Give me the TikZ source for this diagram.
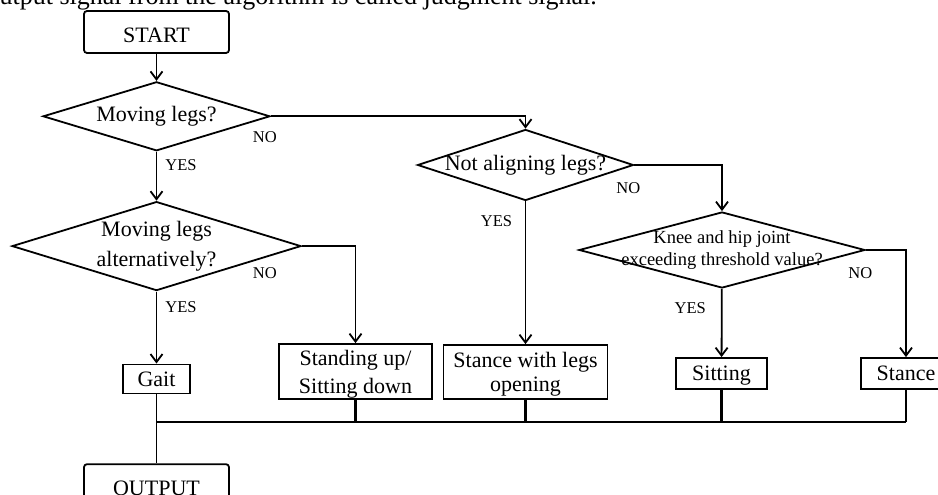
\documentclass[tikz,border=0pt]{standalone}
\usepackage{fontspec}
\setmainfont{Liberation Serif}
\usetikzlibrary{arrows.meta,positioning,shapes.geometric}

\begin{document}
\begin{tikzpicture}[x=1pt, y=-1pt,
  font=\fontsize{22}{27}\selectfont,
  box/.style={draw, line width=1.8pt, align=center, inner sep=0pt, text depth=0pt},
  term/.style={box, rounded corners=3pt, minimum width=145pt, minimum height=42pt, text height=21pt},
  dec/.style={draw, line width=1.8pt, diamond, inner sep=0pt},
  lbl/.style={font=\fontsize{16.5}{18}\selectfont, inner sep=0pt},
  arr/.style={-{Straight Barb[length=8pt,width=12pt]}, line width=1.8pt},
  line/.style={line width=1.8pt},
  stub/.style={line width=2.8pt}]
\useasboundingbox (0,0) rectangle (938,495);
\clip (0,0) rectangle (938,495);
\node[anchor=base east, inner sep=0pt, font=\fontsize{26}{30}\selectfont] (caption) at (597,4.5) {output signal from the algorithm is called judgment signal.};
\node[term] (start) at (156.5,32) {START};
\node[dec, minimum width=227pt, minimum height=69pt, below=27pt of start, label=center:{Moving legs?}] (d1) {};
\node[dec, minimum width=289pt, minimum height=89pt, below=49pt of d1, label={[align=center, font=\fontsize{22}{30}\selectfont]center:Moving legs\\alternatively?}] (d2) {};
\node[box, minimum width=67pt, minimum height=29pt, below=72pt of d2] (gait) {Gait};
\node[term, below=69pt of gait] (output) {OUTPUT};
\node[box, minimum width=153pt, minimum height=55pt, font=\fontsize{22}{28}\selectfont] (standing) at (355.5,371.5) {Standing up/\\Sitting down};
\node[dec, minimum width=216pt, minimum height=71pt, label=center:{Not aligning legs?}] (d3) at (525.5,165) {};
\node[box, minimum width=164pt, minimum height=54pt, font=\fontsize{22}{24}\selectfont] (stancelegs) at (525.5,372) {Stance with legs\\opening};
\node[dec, minimum width=286pt, minimum height=76pt, label={[align=center, font=\fontsize{18.5}{22.5}\selectfont]center:Knee and hip joint\\exceeding threshold value?}] (d4) at (722,250) {};
\node[box, minimum width=91pt, minimum height=31pt] (sitting) at (721.5,373.5) {Sitting};
\node[box, minimum width=90pt, minimum height=31pt] (stance) at (906,373.5) {Stance};
\coordinate (bus) at (0,422);
% decisions
\draw[arr] (start) -- (d1);
\draw[arr] (d1) -- node[lbl, pos=.27, right=8pt] (yes1) {YES} (d2);
\draw[arr] (d1.east) -| node[lbl, pos=0, below=14pt, xshift=-6pt] (no1) {NO} (d3.north);
\draw[arr] (d2) -- node[lbl, pos=.22, right=8pt] (yes2) {YES} (gait);
\draw[arr] (d2.east) -| node[lbl, pos=0, below=21pt, xshift=-37pt] (no2) {NO} (standing.north);
\draw[arr] (d3) -- node[lbl, pos=.135, left=12.5pt] (yes3) {YES} (stancelegs);
\draw[arr] (d3.east) -| node[lbl, pos=0, below=17pt, xshift=-6pt] (no3) {NO} (d4.north);
\draw[arr] (d4) -- node[lbl, pos=.28, left=15pt] (yes4) {YES} (sitting);
\draw[arr] (d4.east) -| node[lbl, pos=0, below=17pt, xshift=-5.5pt] (no4) {NO} (stance.north);
% results to output
\draw[line] (gait) -- (output);
\draw[line] (gait |- bus) -- (stance |- bus);
\foreach \n in {standing,stancelegs,sitting,stance}
  \draw[stub] (\n.south) -- (\n |- bus);
\end{tikzpicture}
\end{document}
